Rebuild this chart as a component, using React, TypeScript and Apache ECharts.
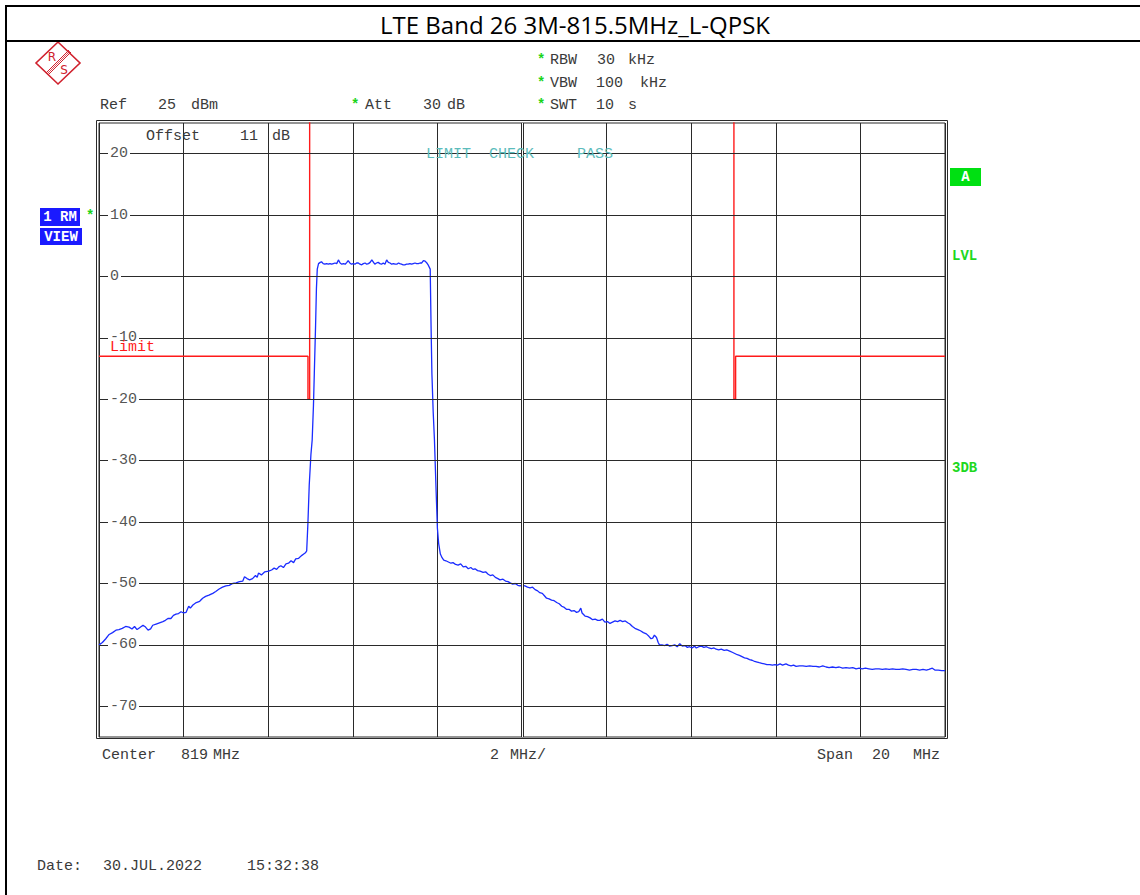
import React, { useEffect, useRef } from "react";
import * as echarts from "echarts";

const TITLE = "LTE Band 26 3M-815.5MHz_L-QPSK";
const CENTER_MHZ = 819;
const SPAN_MHZ = 20;
const DIV_MHZ = 2;
const REF_LEVEL = 25;
const BOTTOM_LEVEL = -75;
const Y_TICKS = [20, 10, 0, -10, -20, -30, -40, -50, -60, -70];
const LIMIT_LABEL = "Limit";

// Limit line: [frequency MHz, level dBm]
const limitLine: [number, number][] = [
  [809, -13], [813.94, -13], [813.94, -20], [813.98, -20], [813.98, 40],
  [824.01, 40], [824.01, -20], [824.05, -20], [824.05, -13], [829, -13],
];

// Measured trace: [frequency MHz, level dBm]
const trace: [number, number][] = [
  [809.00, -60.0], [809.08, -59.6], [809.16, -59.0], [809.24, -58.3], [809.32, -58.0],
  [809.40, -57.6], [809.47, -57.5], [809.55, -57.3], [809.63, -57.0], [809.71, -57.1],
  [809.78, -57.4], [809.84, -57.0], [809.90, -57.5], [809.96, -57.2], [810.04, -56.8],
  [810.10, -57.1], [810.16, -57.6], [810.22, -57.4], [810.27, -56.8], [810.35, -56.6],
  [810.43, -56.4], [810.51, -56.2], [810.57, -56.0], [810.63, -55.7], [810.70, -55.7],
  [810.76, -55.2], [810.82, -55.0], [810.88, -54.9], [810.94, -54.6], [811.00, -54.8],
  [811.06, -54.7], [811.12, -53.7], [811.16, -54.0], [811.22, -53.5], [811.30, -53.1],
  [811.38, -52.9], [811.45, -52.4], [811.52, -52.1], [811.60, -51.9], [811.69, -51.6],
  [811.76, -51.3], [811.84, -50.9], [811.92, -50.6], [812.00, -50.4], [812.08, -50.3],
  [812.16, -50.0], [812.24, -49.9], [812.32, -49.7], [812.40, -49.6], [812.44, -48.9],
  [812.50, -49.2], [812.56, -49.4], [812.63, -49.2], [812.70, -48.7], [812.74, -49.0],
  [812.77, -48.3], [812.84, -48.6], [812.92, -48.1], [813.01, -48.0], [813.08, -47.8],
  [813.14, -47.5], [813.20, -47.7], [813.25, -47.3], [813.30, -47.1], [813.36, -47.4],
  [813.42, -46.8], [813.48, -46.7], [813.54, -46.3], [813.60, -46.6], [813.65, -46.0],
  [813.72, -45.9], [813.78, -45.5], [813.84, -45.2], [813.88, -45.0], [813.91, -44.7],
  [813.94, -40.0], [813.97, -34.0], [814.01, -29.0], [814.04, -26.6], [814.07, -21.0],
  [814.09, -15.8], [814.12, -8.0], [814.14, -2.0], [814.16, 1.2], [814.19, 2.1],
  [814.23, 2.3], [814.26, 2.4], [814.30, 2.1], [814.34, 2.0], [814.38, 2.1],
  [814.42, 2.0], [814.46, 2.1], [814.50, 2.0], [814.54, 2.1], [814.58, 2.2],
  [814.62, 2.1], [814.66, 2.7], [814.70, 2.2], [814.74, 2.0], [814.78, 2.1],
  [814.82, 2.0], [814.86, 2.3], [814.89, 2.6], [814.93, 2.2], [814.97, 2.0],
  [815.01, 2.1], [815.05, 2.0], [815.09, 2.2], [815.13, 2.2], [815.17, 2.0],
  [815.21, 1.9], [815.25, 2.1], [815.29, 2.2], [815.33, 2.0], [815.37, 2.1],
  [815.41, 2.3], [815.45, 2.7], [815.49, 2.3], [815.52, 2.0], [815.56, 2.2],
  [815.60, 2.3], [815.64, 2.1], [815.68, 2.0], [815.72, 2.2], [815.76, 2.0],
  [815.80, 2.7], [815.84, 2.3], [815.88, 2.2], [815.92, 2.0], [815.96, 2.1],
  [816.00, 2.0], [816.04, 2.0], [816.08, 2.2], [816.11, 2.1], [816.15, 2.0],
  [816.19, 1.9], [816.23, 1.9], [816.27, 2.0], [816.31, 2.0], [816.35, 2.1],
  [816.39, 2.0], [816.43, 2.1], [816.47, 2.2], [816.51, 2.1], [816.55, 2.1],
  [816.59, 2.2], [816.63, 2.2], [816.67, 2.6], [816.71, 2.5], [816.75, 2.2],
  [816.78, 1.9], [816.83, 1.2], [816.85, -8.0], [816.87, -15.8], [816.90, -22.0],
  [816.93, -26.6], [816.97, -35.0], [817.00, -41.0], [817.03, -43.5], [817.07, -45.2],
  [817.11, -45.8], [817.15, -46.2], [817.20, -46.3], [817.26, -46.5], [817.32, -46.7],
  [817.37, -46.6], [817.43, -46.9], [817.49, -47.0], [817.55, -46.8], [817.61, -47.3],
  [817.67, -47.2], [817.73, -47.6], [817.79, -47.4], [817.84, -47.7], [817.89, -47.6],
  [817.95, -47.9], [818.01, -48.0], [818.08, -48.2], [818.14, -48.1], [818.20, -48.5],
  [818.25, -48.7], [818.31, -48.6], [818.37, -49.0], [818.43, -49.2], [818.48, -49.4],
  [818.55, -49.3], [818.61, -49.6], [818.67, -49.7], [818.72, -49.9], [818.78, -50.1],
  [818.84, -50.0], [818.90, -50.3], [818.95, -50.4], [819.01, -50.3], [819.07, -50.4],
  [819.13, -50.6], [819.19, -50.7], [819.25, -50.6], [819.31, -51.0], [819.37, -51.2],
  [819.42, -51.5], [819.48, -51.6], [819.53, -52.0], [819.58, -52.4], [819.64, -52.5],
  [819.70, -52.7], [819.76, -52.8], [819.82, -53.1], [819.88, -53.3], [819.94, -53.7],
  [820.00, -53.9], [820.05, -54.2], [820.11, -54.2], [820.17, -54.5], [820.23, -54.4],
  [820.29, -54.7], [820.34, -54.6], [820.39, -54.0], [820.42, -54.8], [820.49, -55.3],
  [820.55, -55.4], [820.61, -55.6], [820.67, -55.9], [820.73, -55.8], [820.79, -56.0],
  [820.84, -56.0], [820.90, -55.8], [820.96, -56.3], [821.02, -56.2], [821.08, -56.5],
  [821.14, -56.3], [821.20, -56.1], [821.26, -56.2], [821.32, -56.0], [821.38, -56.2],
  [821.44, -56.1], [821.50, -56.4], [821.55, -56.6], [821.61, -57.0], [821.67, -57.3],
  [821.74, -57.5], [821.80, -57.7], [821.87, -58.0], [821.94, -58.2], [822.00, -58.6],
  [822.05, -59.0], [822.09, -58.9], [822.13, -58.4], [822.18, -58.8], [822.22, -59.6],
  [822.25, -60.0], [822.31, -60.0], [822.37, -60.1], [822.43, -59.9], [822.49, -60.2],
  [822.55, -60.1], [822.61, -60.0], [822.67, -60.3], [822.73, -59.8], [822.79, -60.2],
  [822.85, -60.1], [822.91, -60.4], [822.96, -60.3], [823.02, -60.5], [823.08, -60.2],
  [823.12, -60.5], [823.18, -60.3], [823.24, -60.2], [823.30, -60.4], [823.36, -60.3],
  [823.42, -60.5], [823.48, -60.6], [823.54, -60.5], [823.59, -60.7], [823.65, -60.8],
  [823.71, -60.7], [823.78, -60.9], [823.84, -60.8], [823.91, -61.0], [823.97, -61.2],
  [824.03, -61.4], [824.09, -61.6], [824.14, -61.7], [824.20, -61.9], [824.26, -62.1],
  [824.32, -62.2], [824.38, -62.4], [824.44, -62.5], [824.50, -62.7], [824.56, -62.8],
  [824.61, -62.9], [824.67, -63.0], [824.73, -63.1], [824.79, -63.2], [824.86, -63.2],
  [824.92, -63.3], [824.98, -63.2], [825.04, -63.3], [825.10, -63.1], [825.16, -63.3],
  [825.24, -63.1], [825.30, -63.3], [825.36, -63.4], [825.42, -63.3], [825.48, -63.5],
  [825.56, -63.4], [825.64, -63.4], [825.72, -63.5], [825.80, -63.4], [825.88, -63.5],
  [825.95, -63.5], [826.03, -63.6], [826.11, -63.4], [826.19, -63.6], [826.26, -63.7],
  [826.34, -63.6], [826.42, -63.7], [826.50, -63.6], [826.58, -63.8], [826.66, -63.7],
  [826.74, -63.8], [826.82, -63.7], [826.90, -63.9], [826.97, -63.8], [827.04, -63.9],
  [827.12, -63.8], [827.20, -63.9], [827.28, -64.0], [827.36, -63.9], [827.44, -63.9],
  [827.52, -64.0], [827.60, -63.9], [827.68, -64.0], [827.76, -63.9], [827.84, -64.0],
  [827.92, -64.0], [828.00, -63.9], [828.08, -64.0], [828.16, -64.1], [828.24, -64.0],
  [828.32, -64.0], [828.40, -64.1], [828.48, -64.0], [828.56, -64.1], [828.62, -64.0],
  [828.70, -63.8], [828.76, -64.1], [828.84, -64.1], [828.92, -64.2], [829.00, -64.2],
];

const MONO = '"Liberation Mono", "DejaVu Sans Mono", monospace';
const GRID_COLOR = "#2a2a2a";
const TEXT_COLOR = "#3a3a3a";
const STAR_GREEN = "#19d419";
const BOX_BLUE = "#1a1aff";
const RED = "#ff1a1a";
const LOGO_RED = "#d0202c";

function txt(text: string, x: number, y: number, fill: string, font = `15px ${MONO}`, align = "left", z = 10) {
  return {
    type: "text",
    x,
    y,
    z,
    silent: true,
    style: { text, fill, font, textAlign: align, textVerticalAlign: "middle" },
  };
}

function star(x: number, y: number) {
  return txt("*", x, y + 1, STAR_GREEN, `bold 14px ${MONO}`);
}

export default function App() {
  const ref = useRef<HTMLDivElement>(null);

  useEffect(() => {
    document.body.style.margin = "0";
    if (!ref.current) return;
    const chart = echarts.init(ref.current, undefined, { renderer: "svg" });
    const start = CENTER_MHZ - SPAN_MHZ / 2;
    const toX = (f: number) => f - start;

    const graphic: any[] = [
      // outer frame and title divider
      { type: "rect", silent: true, z: 1, shape: { x: 6, y: 6, width: 1150, height: 1000 }, style: { fill: "none", stroke: "#000", lineWidth: 2 } },
      { type: "line", silent: true, z: 1, shape: { x1: 6, y1: 41, x2: 1140, y2: 41 }, style: { stroke: "#000", lineWidth: 2 } },
      txt(TITLE, 575, 24, "#000", '24px "Open Sans", "Noto Sans", sans-serif', "center"),
      // R&S logo
      {
        type: "group",
        x: 58,
        y: 63,
        silent: true,
        children: [
          { type: "polygon", shape: { points: [[0, -21], [22, 0], [0, 21], [-22, 0]] }, style: { fill: "#fff", stroke: LOGO_RED, lineWidth: 1.6 } },
          { type: "line", shape: { x1: 13, y1: -11, x2: -10, y2: 12 }, style: { stroke: LOGO_RED, lineWidth: 1 } },
          { type: "line", shape: { x1: 11, y1: -13, x2: -12, y2: 10 }, style: { stroke: LOGO_RED, lineWidth: 1 } },
          { type: "line", shape: { x1: 12, y1: -12, x2: -11, y2: 11 }, style: { stroke: LOGO_RED, lineWidth: 0.8 } },
          { type: "text", x: -6, y: -6, style: { text: "R", fill: LOGO_RED, font: '12px "DejaVu Sans", sans-serif', textAlign: "center", textVerticalAlign: "middle" } },
          { type: "text", x: 6, y: 7, style: { text: "S", fill: LOGO_RED, font: '12px "DejaVu Sans", sans-serif', textAlign: "center", textVerticalAlign: "middle" } },
        ],
      },
      // header settings
      txt("Ref", 100, 105, TEXT_COLOR),
      txt("25", 158, 105, TEXT_COLOR),
      txt("dBm", 191, 105, TEXT_COLOR),
      star(351, 104),
      txt("Att", 365, 105, TEXT_COLOR),
      txt("30", 423, 105, TEXT_COLOR),
      txt("dB", 447, 105, TEXT_COLOR),
      star(537, 59),
      txt("RBW", 550, 60, TEXT_COLOR),
      txt("30", 597, 60, TEXT_COLOR),
      txt("kHz", 628, 60, TEXT_COLOR),
      star(537, 82),
      txt("VBW", 550, 83, TEXT_COLOR),
      txt("100", 596, 83, TEXT_COLOR),
      txt("kHz", 640, 83, TEXT_COLOR),
      star(537, 104),
      txt("SWT", 550, 105, TEXT_COLOR),
      txt("10", 596, 105, TEXT_COLOR),
      txt("s", 628, 105, TEXT_COLOR),
      // in-plot annotations
      txt("Offset", 146, 136, TEXT_COLOR),
      txt("11", 240, 136, TEXT_COLOR),
      txt("dB", 272, 136, TEXT_COLOR),
      txt("LIMIT", 426, 154, "#5cbcbc"),
      txt("CHECK", 489, 154, "#5cbcbc"),
      txt("PASS", 577, 154, "#5cbcbc"),
      txt(LIMIT_LABEL, 110, 347, RED),
      // left trace boxes
      { type: "rect", silent: true, z: 5, shape: { x: 40, y: 208, width: 40, height: 18 }, style: { fill: BOX_BLUE } },
      txt("1 RM", 60, 217, "#fff", `bold 14px ${MONO}`, "center"),
      { type: "rect", silent: true, z: 5, shape: { x: 40, y: 228, width: 42, height: 17 }, style: { fill: BOX_BLUE } },
      txt("VIEW", 61, 237, "#fff", `bold 14px ${MONO}`, "center"),
      star(86, 215),
      // right side labels
      { type: "rect", silent: true, z: 5, shape: { x: 950, y: 168, width: 31, height: 18 }, style: { fill: "#00e012" } },
      txt("A", 965.5, 177, "#fff", `bold 14px ${MONO}`, "center"),
      txt("LVL", 952, 256, "#1ed81e", `bold 14px ${MONO}`),
      txt("3DB", 952, 468, "#1ed81e", `bold 14px ${MONO}`),
      // outer plot border (double line)
      { type: "rect", silent: true, z: 1, shape: { x: 96.5, y: 120.5, width: 851, height: 618 }, style: { fill: "none", stroke: GRID_COLOR, lineWidth: 1 } },
      // bottom texts
      txt("Center", 102, 755, TEXT_COLOR),
      txt("819", 181, 755, TEXT_COLOR),
      txt("MHz", 213, 755, TEXT_COLOR),
      txt("2", 490, 755, TEXT_COLOR),
      txt("MHz/", 510, 755, TEXT_COLOR),
      txt("Span", 817, 755, TEXT_COLOR),
      txt("20", 872, 755, TEXT_COLOR),
      txt("MHz", 940, 755, TEXT_COLOR, `15px ${MONO}`, "right"),
      txt("Date:", 37, 866, TEXT_COLOR),
      txt("30.JUL.2022", 103, 866, TEXT_COLOR),
      txt("15:32:38", 247, 866, TEXT_COLOR),
    ];

    const gridMarks: any[] = Y_TICKS.map((v) => ({ yAxis: v }));
    gridMarks.push({ xAxis: SPAN_MHZ / 2, lineStyle: { color: GRID_COLOR, width: 3 } });
    gridMarks.push({ xAxis: SPAN_MHZ / 2, lineStyle: { color: "#fff", width: 1 } });

    chart.setOption({
      animation: false,
      backgroundColor: "#fff",
      grid: {
        left: 99,
        top: 123,
        width: 846,
        height: 614,
        show: true,
        borderColor: GRID_COLOR,
        borderWidth: 1,
        backgroundColor: "transparent",
      },
      xAxis: {
        type: "value",
        min: 0,
        max: SPAN_MHZ,
        interval: DIV_MHZ,
        axisLine: { show: false },
        axisTick: { show: false },
        axisLabel: { show: false },
        splitLine: { show: true, lineStyle: { color: GRID_COLOR, width: 1 } },
      },
      yAxis: {
        type: "value",
        min: BOTTOM_LEVEL,
        max: REF_LEVEL,
        z: 5,
        axisLine: { show: false },
        axisTick: { show: false },
        splitLine: { show: false },
        axisLabel: {
          show: true,
          inside: true,
          margin: 9,
          customValues: Y_TICKS,
          color: "#555",
          fontFamily: MONO,
          fontSize: 15,
          backgroundColor: "#fff",
          padding: [0, 2, 0, 2],
          showMinLabel: true,
          showMaxLabel: true,
        },
      },
      graphic,
      series: [
        {
          name: "grid",
          type: "line",
          data: [],
          z: 1,
          silent: true,
          markLine: {
            silent: true,
            symbol: "none",
            label: { show: false },
            lineStyle: { color: GRID_COLOR, width: 1, type: "solid" },
            data: gridMarks,
          },
        },
        {
          name: "limit",
          type: "line",
          z: 2,
          showSymbol: false,
          silent: true,
          clip: true,
          data: limitLine.map(([f, v]) => [toX(f), v]),
          lineStyle: { color: RED, width: 1.4 },
        },
        {
          name: "trace",
          type: "line",
          z: 3,
          showSymbol: false,
          silent: true,
          clip: true,
          data: trace.map(([f, v]) => [toX(f), v]),
          lineStyle: { color: "#1a2cff", width: 1.3 },
        },
      ],
    });

    return () => chart.dispose();
  }, []);

  return <div ref={ref} style={{ width: 1140, height: 895 }} />;
}
